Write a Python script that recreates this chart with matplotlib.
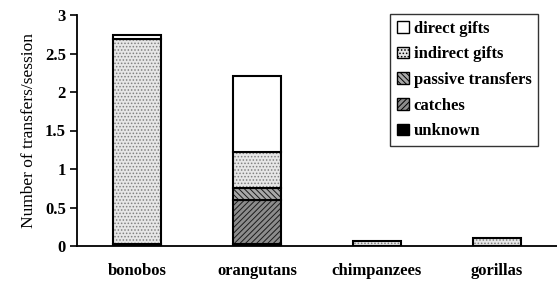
import numpy as np
import matplotlib.pyplot as plt

plt.rcParams['hatch.linewidth'] = 0.7

species = ['bonobos', 'orangutans', 'chimpanzees', 'gorillas']
unknown = [0.03, 0.02, 0.0, 0.0]
catches = [0.0, 0.58, 0.0, 0.0]
passive = [0.0, 0.15, 0.0, 0.0]
indirect = [2.66, 0.47, 0.06, 0.10]
direct = [0.05, 0.99, 0.0, 0.0]

series = [
    ('unknown', unknown, 'black', None, 'black'),
    ('catches', catches, '#8c8c8c', '//////', '#1a1a1a'),
    ('passive transfers', passive, '#a8a8a8', '\\\\\\\\\\\\', '#1a1a1a'),
    ('indirect gifts', indirect, '#e6e6e6', '.....', '#808080'),
    ('direct gifts', direct, 'white', None, 'black'),
]

fig = plt.figure(figsize=(5.57, 2.85), dpi=100)
ax = fig.add_axes([77/557, 39/285, 480/557, 231/285])

x = np.arange(len(species))
bottom = np.zeros(len(species))
handles = {}
for name, vals, fc, hatch, hc in series:
    vals = np.array(vals)
    b = ax.bar(x, vals, 0.4, bottom=bottom, facecolor=fc, hatch=hatch,
               edgecolor=hc, linewidth=0)
    # outline
    ax.bar(x[vals > 0], vals[vals > 0], 0.4, bottom=bottom[vals > 0],
           facecolor='none', edgecolor='black', linewidth=1.5)
    handles[name] = b
    bottom += vals

ax.set_xlim(-0.5, 3.5)
ax.set_ylim(0, 3)
ax.set_yticks([0, 0.5, 1, 1.5, 2, 2.5, 3])
ax.set_yticklabels(['0', '0.5', '1', '1.5', '2', '2.5', '3'])
ax.set_xticks(x)
ax.set_xticklabels(species)
ax.tick_params(axis='x', length=0, pad=12)
ax.tick_params(axis='y', length=5, width=1.2, direction='out', pad=3)
for lab in ax.get_xticklabels() + ax.get_yticklabels():
    lab.set_fontfamily('Liberation Serif')
    lab.set_fontweight('bold')
    lab.set_fontsize(12)
ax.spines['top'].set_visible(False)
ax.spines['right'].set_visible(False)
ax.spines['left'].set_linewidth(1.3)
ax.spines['bottom'].set_linewidth(1.3)
ax.set_ylabel('Number of transfers/session', fontfamily='Liberation Serif',
              fontsize=12.5, labelpad=6)

order = ['direct gifts', 'indirect gifts', 'passive transfers', 'catches', 'unknown']
leg = ax.legend([handles[n] for n in order], order, loc='upper right',
                bbox_to_anchor=(461/480, 1.0 + 1/231), borderaxespad=0,
                prop={'family': 'Liberation Serif', 'weight': 'bold', 'size': 12},
                frameon=True, fancybox=False, edgecolor='black',
                handlelength=0.7, handleheight=0.7, handletextpad=0.3,
                labelspacing=0.58, borderpad=0.4)
leg.get_frame().set_linewidth(1.0)
for p in leg.get_patches():
    p.set_edgecolor('black')
    p.set_linewidth(1.0)

fig.savefig('out.png', dpi=100)
